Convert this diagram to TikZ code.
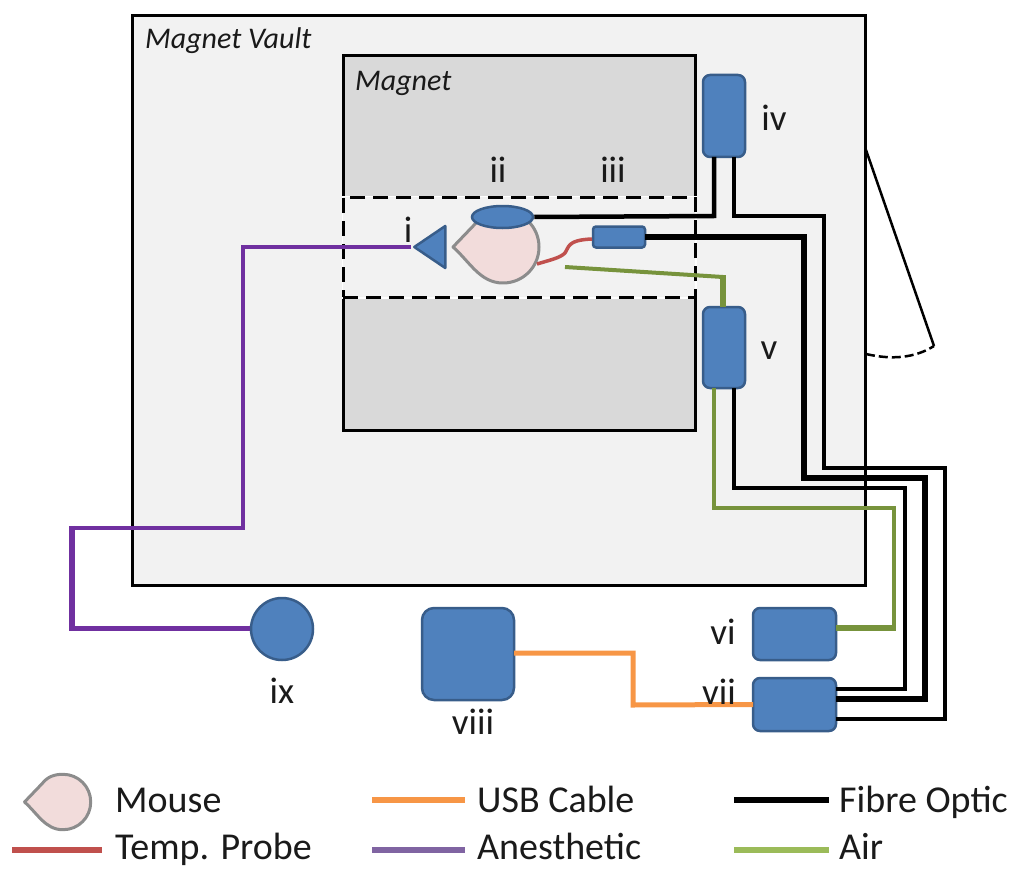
\documentclass[tikz,border=0pt]{standalone}
\usepackage{fontspec}
\setmainfont{Carlito}
\usetikzlibrary{shapes.geometric}
\definecolor{vaultgray}{HTML}{F2F2F2}
\definecolor{magnetgray}{HTML}{D9D9D9}
\definecolor{boxblue}{HTML}{4F81BD}
\definecolor{boxedge}{HTML}{385D8A}
\definecolor{mousepink}{HTML}{F2DCDB}
\definecolor{mouseedge}{HTML}{8C8C8C}
\definecolor{usborange}{HTML}{F79646}
\definecolor{probered}{HTML}{C0504D}
\definecolor{gaspurple}{HTML}{7030A0}
\definecolor{airgreen}{HTML}{77933C}
\definecolor{keypurple}{HTML}{8064A2}
\definecolor{keygreen}{HTML}{9BBB59}
\definecolor{labelink}{HTML}{1A1A1A}
\tikzset{
  room/.style={draw=black,line width=3pt,inner sep=0pt},
  devicebox/.style={rectangle,rounded corners=7pt,draw=boxedge,fill=boxblue,line width=2.5pt,inner sep=0pt,outer sep=0pt},
  itemlabel/.style={font=\fontsize{37}{37}\selectfont,text=labelink,inner sep=0pt},
  keylabel/.style={font=\fontsize{38}{38}\selectfont,text=labelink,inner sep=0pt,anchor=base west},
  fibre/.style={draw=black,line width=4.5pt},
  airline/.style={draw=airgreen,line width=3.5pt},
  gasline/.style={draw=gaspurple,line width=4.5pt},
  keyend/.style={inner sep=0pt,minimum size=0pt},
  mouse/.pic={
    \draw[draw=mouseedge,fill=mousepink,line width=3pt,line join=round]
      (-50,0) -- (-27,-24) .. controls (-20,-33) and (-11,-36) .. (0,-36)
      .. controls (20,-36) and (36,-20) .. (36,0)
      .. controls (36,20) and (20,36) .. (0,36)
      .. controls (-23,36) and (-33,15) .. cycle;
  }
}
\begin{document}
\begin{tikzpicture}[x=1pt,y=-1pt]
  \useasboundingbox (0,0) rectangle (1019,869);
  % rooms
  \node[room,fill=vaultgray,minimum width=733pt,minimum height=569pt] (vault) at (498.5,300.5) {};
  \node[room,fill=magnetgray,minimum width=352pt,minimum height=374pt] (magnet) at (519,243) {};
  \node[draw=black,dashed,dash pattern=on 15pt off 8pt,line width=3pt,fill=vaultgray,preaction={draw=white,solid,line width=3pt},inner sep=0pt,minimum width=352pt,minimum height=100pt] (bore) at (519,247) {};
  \node[font=\fontsize{30}{30}\selectfont\itshape,text=labelink,anchor=west,inner sep=0pt] (vaultlabel) at (145,41) {Magnet Vault};
  \node[font=\fontsize{30}{30}\selectfont\itshape,text=labelink,anchor=west,inner sep=0pt] (magnetlabel) at (355,83) {Magnet};
  % door
  \coordinate (doortop) at (866,150);
  \coordinate (doorend) at (934,346);
  \coordinate (doorfoot) at (866,354);
  \draw[line width=2.5pt] (doortop) -- (doorend);
  \draw[line width=2.5pt,dashed,dash pattern=on 9pt off 4pt] (doorfoot) .. controls (892,360) and (915,358) .. (doorend);
  % devices
  \pic at (503,247) {mouse};
  \node[devicebox,minimum width=42pt,minimum height=82pt] (boxiv) at (724,116) {};
  \node[devicebox,minimum width=42pt,minimum height=81pt] (boxv) at (724,347.5) {};
  \node[devicebox,rounded corners=3pt,minimum width=52pt,minimum height=21pt] (boxiii) at (619,237) {};
  \node[ellipse,draw=boxedge,fill=boxblue,line width=2.5pt,inner sep=0pt,minimum width=61pt,minimum height=22pt] (coil) at (502.5,217) {};
  \node[isosceles triangle,isosceles triangle stretches,shape border rotate=180,draw=boxedge,fill=boxblue,line width=2.5pt,line join=round,inner sep=0pt,minimum height=31pt,minimum width=42pt,anchor=apex] (cone) at (411,247) {};
  \node[devicebox,minimum width=83pt,minimum height=52pt] (boxvi) at (794.5,634) {};
  \node[devicebox,minimum width=83pt,minimum height=53pt] (boxvii) at (794.5,704.5) {};
  \node[devicebox,rounded corners=12pt,minimum width=92pt,minimum height=92pt] (boxviii) at (468,654) {};
  \node[circle,draw=boxedge,fill=boxblue,line width=2.5pt,inner sep=0pt,minimum size=62pt] (vapor) at (282,629) {};
  % fibres
  \draw[fibre] (coil.east) -- (714,216) -- (714,157);
  \draw[fibre] (734,157) -- (734,216) -- (824,216) -- (824,468) -- (945,468) -- (945,719) -- (836,719);
  \draw[fibre,line width=5.5pt] (boxiii.east) -- (804,237) -- (804,478) -- (925,478) -- (925,699) -- (836,699);
  \draw[fibre,line width=4pt] (734,388) -- (734,488) -- (905,488) -- (905,689) -- (836,689);
  % air
  \coordinate (airend) at (565,267);
  \coordinate (airbend) at (723,277);
  \draw[airline,line width=4pt] (airend) -- (airbend);
  \draw[airline,line width=5.5pt] ([yshift=2pt]airbend) -- (723,307);
  \coordinate (airfoot) at (894,628);
  \draw[airline] (714,388) -- (714,508) -- (894,508) -- (airfoot);
  \draw[airline,line width=6pt] ([xshift=1.75pt]airfoot) -- (boxvi.east |- airfoot);
  % other lines
  \draw[draw=probered,line width=3.5pt] (537,264) .. controls (550,260) and (560,258) .. (565,253) .. controls (569,248) and (566,240) .. (592,239);
  \coordinate (gasbend) at (72,528);
  \coordinate (gasfoot) at (72,628);
  \draw[gasline] (cone.apex) -- (243,247) -- (243,528) -- (gasbend);
  \draw[gasline,line width=6.5pt] ([yshift=2.25pt]gasbend) -- ([yshift=-2.5pt]gasfoot);
  \draw[gasline,line width=5pt] (gasfoot) -- (vapor.west |- gasfoot);
  \draw[draw=usborange,line width=5pt] (boxviii.east |- 0,653) -- (633,653) -- (633,705) -- (boxvii.west);
  % labels
  \node[itemlabel] (labeli) at (408,230) {i};
  \node[itemlabel] (labelii) at (498,170) {ii};
  \node[itemlabel] (labeliii) at (613,170) {iii};
  \node[itemlabel] (labeliv) at (774,118) {iv};
  \node[itemlabel] (labelv) at (769,351) {v};
  \node[itemlabel] (labelvi) at (723,632) {vi};
  \node[itemlabel] (labelvii) at (719,692) {vii};
  \node[itemlabel] (labelviii) at (473,722) {viii};
  \node[itemlabel] (labelix) at (282,691) {ix};
  % key
  \pic[scale=0.77] at (63,802) {mouse};
  \node[keylabel] (keymouse) at (115,812) {Mouse};
  \node[keylabel] (keyprobe) at (115,859) {Temp. Probe};
  \node[keylabel] (keyusb) at (477,812) {USB Cable};
  \node[keylabel] (keygas) at (477,859) {Anesthetic};
  \node[keylabel] (keyfibre) at (839,812) {Fibre Optic};
  \node[keylabel] (keyair) at (839,859) {Air};
  \node[keyend] (keyprobestart) at (12,850) {};
  \node[keyend] (keyusbstart) at (372,800) {};
  \node[keyend] (keygasstart) at (372,850) {};
  \node[keyend] (keyfibrestart) at (734,800) {};
  \node[keyend] (keyairstart) at (734,850) {};
  \draw[draw=probered,line width=6pt] (keyprobestart) -- (102,850);
  \draw[draw=usborange,line width=6pt] (keyusbstart) -- (465,800);
  \draw[draw=keypurple,line width=6pt] (keygasstart) -- (465,850);
  \draw[draw=black,line width=6pt] (keyfibrestart) -- (829,800);
  \draw[draw=keygreen,line width=6pt] (keyairstart) -- (829,850);
\end{tikzpicture}
\end{document}
